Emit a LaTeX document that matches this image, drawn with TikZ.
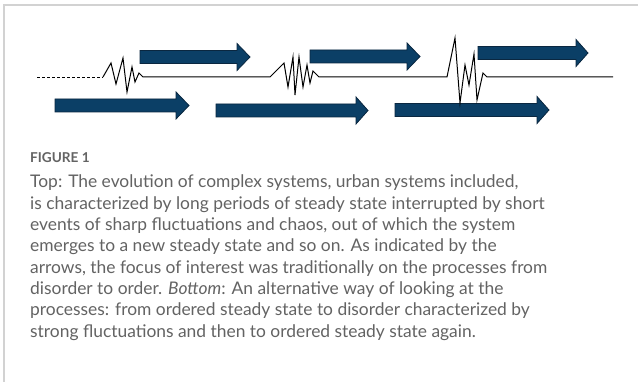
\documentclass[tikz,border=0pt]{standalone}
\usepackage{fontspec}
\setmainfont{Lato}
\begin{document}
\begin{tikzpicture}[x=1pt,y=-1pt,
  arrowfill/.style={fill=arrowblue,draw=arrowedge,line width=0.8pt,line join=miter},
  signal/.style={line width=1pt,draw=black,line join=miter},
  framerule/.style={draw=framegray,line width=1.4pt},
  captext/.style={anchor=base west,inner sep=0pt,text=capgray,font=\fontsize{17.4}{21.3}\selectfont},
  caphead/.style={anchor=base west,inner sep=0pt,text=capgray,font=\fontsize{13.6}{15}\selectfont\bfseries}]
\definecolor{arrowblue}{HTML}{0B3F66}
\definecolor{arrowedge}{HTML}{0A2740}
\definecolor{framegray}{HTML}{D2D2D2}
\definecolor{capgray}{HTML}{636363}
% block arrow: body from x0 to x1, tip at xt, centre line yc
\newcommand\blockarrow[4]{%
  \filldraw[arrowfill] (#1,#4-6.5) -- (#2,#4-6.5) -- (#2,#4-13.5) -- (#3,#4)
    -- (#2,#4+13.5) -- (#2,#4+6.5) -- (#1,#4+6.5) -- cycle;}
\useasboundingbox (0,0) rectangle (638,382);
\fill[white] (0,0) rectangle (638,382);
% frame
\draw[framerule] (4,382) -- (4,5) -- (638,5);
% arrows: upper row
\blockarrow{140}{237}{250}{57}
\blockarrow{310}{407}{420}{56.5}
\blockarrow{478}{576}{588}{53}
% arrows: lower row
\blockarrow{55}{176}{189}{105.5}
\blockarrow{216}{356}{368}{110.5}
\blockarrow{395}{537}{549}{110}
% evolving signal
\coordinate (s0) at (37,77);
\coordinate (s1) at (103,77);
\draw[signal,dashed,line width=0.8pt,dash pattern=on 3pt off 2pt] (s0) -- (s1);
\draw[signal] (s1) -- (111,63) -- (116,84) -- (123,58) -- (127,92) -- (132,67) -- (135,82)
  -- (139,73) -- (143,77) -- (270,77)
  -- (284,63) -- (288,87) -- (293,57) -- (295,95) -- (299,57) -- (303,87) -- (307,65)
  -- (310,83) -- (313,71) -- (319,77) -- (447,77)
  -- (455,38) -- (460,103) -- (465,65) -- (469,85) -- (474,54) -- (477,100)
  -- (483,73) -- (487,77) -- (613,77);
% caption
\node[caphead] (fig) at (30,163) {FIGURE 1};
\node[captext] (l1) at (30,188) {Top: The evolution of complex systems, urban systems included,};
\node[captext] (l2) at (30,209.3) {is characterized by long periods of steady state interrupted by short};
\node[captext] (l3) at (30,230.6) {events of sharp fluctuations and chaos, out of which the system};
\node[captext] (l4) at (30,251.9) {emerges to a new steady state and so on. As indicated by the};
\node[captext] (l5) at (30,273.2) {arrows, the focus of interest was traditionally on the processes from};
\node[captext] (l6) at (30,294.5) {disorder to order. \textit{Bottom}: An alternative way of looking at the};
\node[captext] (l7) at (30,315.8) {processes: from ordered steady state to disorder characterized by};
\node[captext] (l8) at (30,337.1) {strong fluctuations and then to ordered steady state again.};
\end{tikzpicture}
\end{document}
